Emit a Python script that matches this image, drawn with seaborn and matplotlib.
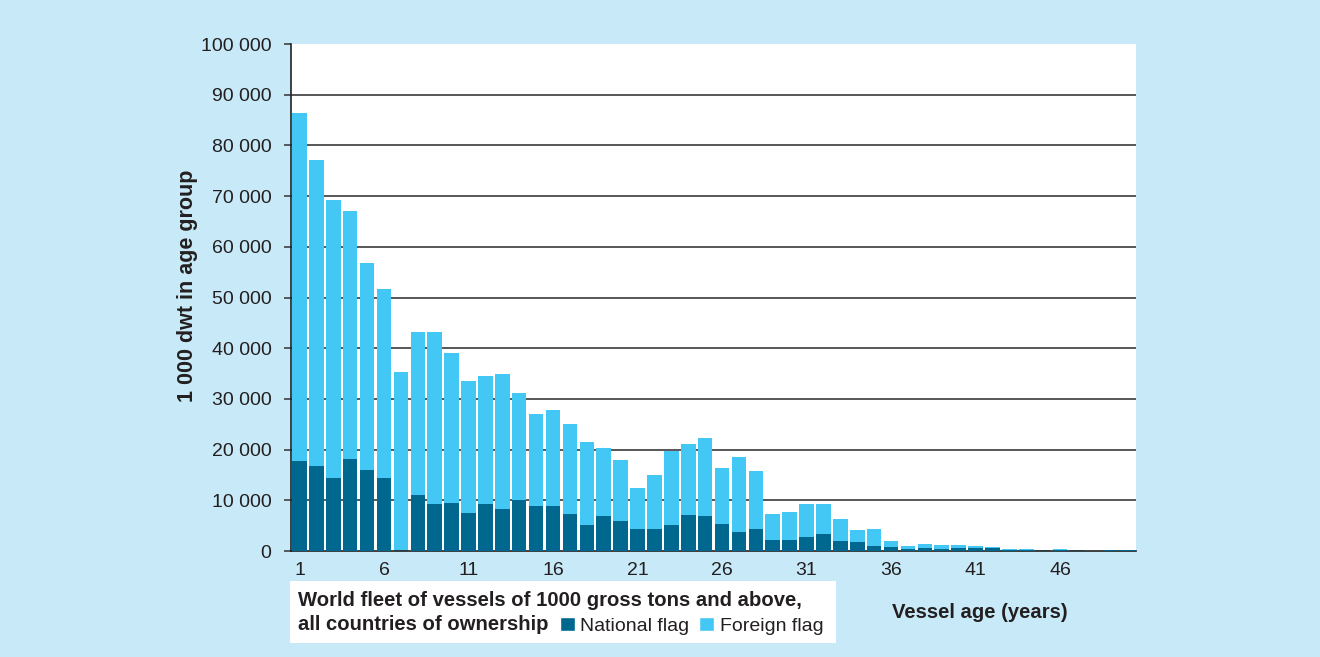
import pandas as pd
import matplotlib.pyplot as plt
import seaborn as sns
from matplotlib.patches import Rectangle, Patch

# === Data (1 000 dwt per vessel age group) ===
ages = list(range(1, 51))
national = [17800, 16800, 14400, 18200, 16000, 14400, 0, 11000, 9300, 9500,
            7500, 9300, 8300, 10100, 8900, 8900, 7300, 5100, 6900, 5900,
            4300, 4300, 5100, 7100, 6900, 5300, 3700, 4300, 2200, 2200,
            2800, 3400, 2000, 1800, 1000, 800, 400, 600, 400, 600,
            600, 600, 300, 300, 100, 300, 100, 0, 200, 150]
foreign = [68600, 60400, 54900, 48900, 40800, 37300, 35300, 32200, 33900, 29600,
           26100, 25200, 26600, 21100, 18100, 18900, 17800, 16400, 13400, 12100,
           8100, 10700, 14600, 14000, 15400, 11100, 14900, 11500, 5100, 5500,
           6500, 5900, 4300, 2300, 3300, 1200, 600, 800, 800, 600,
           400, 200, 100, 100, 100, 100, 100, 0, 0, 100]
xtick_labels = ["1", "6", "11", "16", "21", "26", "31", "36", "41", "46"]
yticks = [0, 10000, 20000, 30000, 40000, 50000, 60000, 70000, 80000, 90000, 100000]
ytick_labels = ["0", "10 000", "20 000", "30 000", "40 000", "50 000",
                "60 000", "70 000", "80 000", "90 000", "100 000"]

# === Style ===
NATIONAL_COLOR = "#00688f"
FOREIGN_COLOR = "#43c7f4"
BG_COLOR = "#c8eaf8"
TEXT_COLOR = "#231f20"

sns.set_style("white")
plt.rcParams['font.family'] = ['Liberation Sans', 'DejaVu Sans']

df = pd.DataFrame({'age': ages, 'national': national, 'foreign': foreign})
df['total'] = df['national'] + df['foreign']

fig = plt.figure(figsize=(13.2, 6.57), dpi=100, facecolor=BG_COLOR)
ax = fig.add_axes([0.2205, 0.1613, 0.6402, 0.7717])
ax.set_facecolor("white")

# gridlines behind the bars
for v in yticks[1:-1]:
    ax.axhline(v, color="#4a4a4a", lw=1.3, zorder=0)

sns.barplot(data=df, x='age', y='total', color=FOREIGN_COLOR, width=0.86,
            saturation=1, ax=ax, zorder=2, linewidth=0, edgecolor="none")
sns.barplot(data=df, x='age', y='national', color=NATIONAL_COLOR, width=0.86,
            saturation=1, ax=ax, zorder=3, linewidth=0, edgecolor="none")

ax.set_xlim(-0.5, len(ages) - 0.5)
ax.set_ylim(0, 100000)

# x axis: labels every 5th category, tick marks at category boundaries
ax.set_xticks(range(0, len(ages), 5))
ax.set_xticklabels(xtick_labels)
ax.set_xticks([i - 0.5 for i in range(len(ages) + 1)], minor=True)
ax.tick_params(axis='x', which='major', length=0, pad=8, labelsize=14,
               labelcolor=TEXT_COLOR)
ax.tick_params(axis='x', which='minor', length=5, width=1.1, color="#333333",
               direction='out')

ax.set_yticks(yticks)
ax.set_yticklabels(ytick_labels)
ax.tick_params(axis='y', length=5, width=1.1, color="#333333", pad=9,
               labelsize=14, labelcolor=TEXT_COLOR, left=True)

for side in ['top', 'right']:
    ax.spines[side].set_visible(False)
for side in ['left', 'bottom']:
    ax.spines[side].set_color("#222222")
    ax.spines[side].set_linewidth(1.2)

ax.set_xlabel("")
ax.set_ylabel("1 000 dwt in age group", fontsize=15.5, fontweight='bold',
              color=TEXT_COLOR)
ax.yaxis.set_label_coords(-0.110, 0.523)

fig.text(0.742, 0.068, "Vessel age (years)", fontsize=14.6, fontweight='bold',
         color=TEXT_COLOR, ha='center', va='center')

# === Legend box ===
fig.patches.append(Rectangle((290 / 1320, 14 / 657), 546 / 1320, 62 / 657,
                             transform=fig.transFigure, facecolor="white",
                             edgecolor="none", zorder=0))
fig.text(298 / 1320, 1 - 600 / 657, "World fleet of vessels of 1000 gross tons and above,",
         fontsize=14.6, fontweight='bold', color=TEXT_COLOR, va='center')
fig.text(298 / 1320, 1 - 625 / 657, "all countries of ownership",
         fontsize=14.6, fontweight='bold', color=TEXT_COLOR, va='center')
handles = [Patch(facecolor=NATIONAL_COLOR, label="National flag"),
           Patch(facecolor=FOREIGN_COLOR, label="Foreign flag")]
fig.legend(handles=handles, loc='center left', bbox_to_anchor=(560 / 1320, 1 - 626 / 657),
           ncol=2, frameon=False, fontsize=14, handlelength=0.75, handleheight=0.75,
           handletextpad=0.3, columnspacing=0.5, borderpad=0, borderaxespad=0,
           labelcolor=TEXT_COLOR)

fig.savefig("out.png", dpi=100, facecolor=BG_COLOR)
